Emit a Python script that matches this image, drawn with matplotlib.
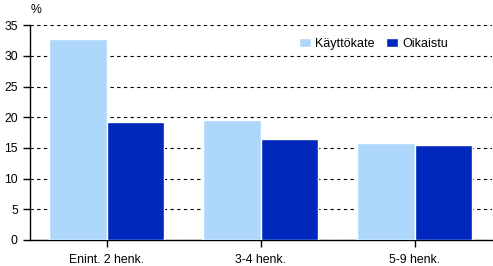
import numpy as np
import matplotlib
matplotlib.use("Agg")
import matplotlib.pyplot as plt

plt.rcParams["font.family"] = ["Liberation Sans", "DejaVu Sans"]

# ── data ──────────────────────────────────────────────────────────────────────
categories = ["Enint. 2 henk.", "3-4 henk.", "5-9 henk."]
kayttokate = [32.7, 19.5, 15.8]
oikaistu   = [19.2, 16.5, 15.4]

LIGHT = "#add8fb"
DARK  = "#0028bd"

# ── plot ──────────────────────────────────────────────────────────────────────
fig = plt.figure(figsize=(4.93, 2.66), dpi=100)
ax = fig.add_axes([0.06, 0.098, 0.937, 0.807])

x = np.arange(len(categories))
w = 0.375
ax.bar(x - w / 2, kayttokate, width=w, color=LIGHT, edgecolor="white",
       linewidth=1, label="Käyttökate", zorder=3)
ax.bar(x + w / 2, oikaistu, width=w, color=DARK, edgecolor="white",
       linewidth=1, label="Oikaistu", zorder=3)

ax.set_xlim(-0.5, 2.5)
ax.set_ylim(0, 35)
ax.set_yticks(range(0, 36, 5))
ax.set_xticks(x)
ax.set_xticklabels(categories)
ax.yaxis.grid(True, color="black", linestyle=(0, (3, 3)), linewidth=0.8)
ax.set_axisbelow(True)

for s in ("top", "right"):
    ax.spines[s].set_visible(False)
for s in ("left", "bottom"):
    ax.spines[s].set_linewidth(1)
ax.tick_params(labelsize=8.8, length=5, width=1, color="black")
ax.tick_params(axis="x", pad=5)

fig.text(0.062, 0.985, "%", fontsize=8.8, va="top", ha="left")

ax.legend(loc="upper right", bbox_to_anchor=(0.93, 0.995), ncol=2, frameon=False,
          fontsize=9, handlelength=1.0, handleheight=0.8, handletextpad=0.3,
          columnspacing=0.9)

fig.savefig("out.png", dpi=100)
plt.close()
